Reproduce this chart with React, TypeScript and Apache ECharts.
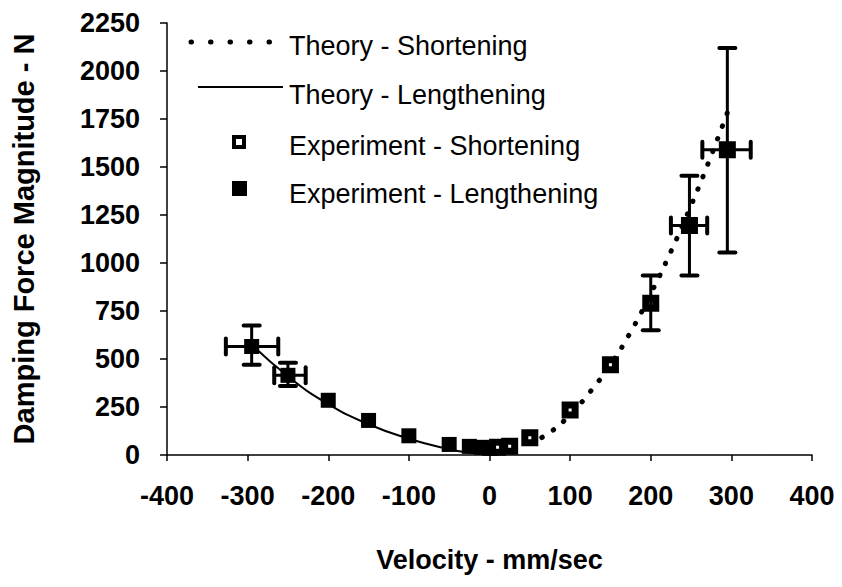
import React, { useEffect, useRef } from "react";
import * as echarts from "echarts";

// Experimental data (velocity mm/sec, force N)
const expLengthening: [number, number][] = [
  [-295, 565], [-250, 415], [-200, 285], [-150, 180], [-100, 100],
  [-50, 55], [-25, 45], [-10, 40], [0, 35],
];
const expShortening: [number, number][] = [
  [10, 40], [25, 45], [50, 90], [100, 235], [150, 470], [200, 790], [248, 1195], [295, 1590],
];
// Theory curves
const theoryLengthening: [number, number][] = [
  [-300, 595], [-250, 410], [-200, 265], [-150, 160], [-100, 85], [-50, 30], [-25, 12], [0, 3],
];
const theoryShortening: [number, number][] = [
  [50, 60], [75, 118], [100, 210], [125, 330], [150, 470], [175, 640], [200, 840],
  [225, 1060], [250, 1300], [275, 1560], [300, 1840],
];
// Error bars: vertical [x, low, high], horizontal [y, low, high]
const yErrors: [number, number, number][] = [
  [-295, 470, 675], [-250, 360, 480], [200, 650, 935], [248, 935, 1455], [295, 1055, 2120],
];
const xErrors: [number, number, number][] = [
  [565, -327, -262], [415, -267, -228], [1195, 225, 270], [1590, 264, 324],
];

const legendLabels = [
  "Theory - Shortening",
  "Theory - Lengthening",
  "Experiment - Shortening",
  "Experiment - Lengthening",
];

const FONT = '"Liberation Sans", Arial, sans-serif';

export default function App() {
  const ref = useRef<HTMLDivElement>(null);
  useEffect(() => {
    document.body.style.margin = "0";
    if (!ref.current) return;
    const chart = echarts.init(ref.current, null, { renderer: "svg" });
    const CAP = 8;
    const option: any = {
      animation: false,
      backgroundColor: "#fff",
      grid: { left: 167, right: 30, top: 23, bottom: 132 },
      xAxis: {
        type: "value",
        min: -400,
        max: 400,
        interval: 100,
        name: "Velocity - mm/sec",
        nameLocation: "middle",
        nameGap: 91,
        nameTextStyle: { fontFamily: FONT, fontWeight: "bold", fontSize: 27, color: "#000" },
        axisLine: { onZero: false, lineStyle: { color: "#000", width: 1.5 } },
        axisTick: { show: true, length: 6, lineStyle: { color: "#000", width: 1.5 } },
        axisLabel: { fontFamily: FONT, fontWeight: "bold", fontSize: 27, color: "#000", margin: 27, formatter: (v: number) => String(v) },
        splitLine: { show: false },
      },
      yAxis: {
        type: "value",
        min: 0,
        max: 2250,
        interval: 250,
        name: "Damping Force Magnitude - N",
        nameLocation: "middle",
        nameGap: 129,
        nameRotate: 90,
        nameTextStyle: { fontFamily: FONT, fontWeight: "bold", fontSize: 29, color: "#000" },
        axisLine: { show: true, onZero: false, lineStyle: { color: "#000", width: 1.5 } },
        axisTick: { show: true, length: 7, lineStyle: { color: "#000", width: 1.5 } },
        axisLabel: { fontFamily: FONT, fontWeight: "bold", fontSize: 27, color: "#000", margin: 27, formatter: (v: number) => String(v) },
        splitLine: { show: false },
      },
      graphic: [
        {
          type: "line",
          shape: { x1: 191, y1: 42, x2: 270, y2: 42 },
          style: { stroke: "#000", lineWidth: 5, lineDash: [0.5, 19], lineCap: "round" },
        },
        {
          type: "line",
          shape: { x1: 198, y1: 87, x2: 283, y2: 87 },
          style: { stroke: "#000", lineWidth: 2 },
        },
        {
          type: "rect",
          shape: { x: 234, y: 137, width: 10, height: 10 },
          style: { fill: "#fff", stroke: "#000", lineWidth: 4 },
        },
        {
          type: "rect",
          shape: { x: 232, y: 181, width: 15, height: 15 },
          style: { fill: "#000" },
        },
        ...legendLabels.map((t, i) => ({
          type: "text",
          x: 289,
          y: [46, 95, 146, 194][i],
          style: {
            text: t,
            fill: "#000",
            font: `27px ${FONT}`,
            verticalAlign: "middle",
            textVerticalAlign: "middle",
          },
        })),
      ],
      series: [
        {
          name: "Theory - Lengthening",
          type: "line",
          data: theoryLengthening,
          smooth: true,
          showSymbol: false,
          lineStyle: { color: "#000", width: 2 },
          z: 2,
        },
        {
          name: "Theory - Shortening",
          type: "line",
          data: theoryShortening,
          smooth: true,
          showSymbol: false,
          lineStyle: { color: "#000", width: 5, type: [0.5, 13], cap: "round" },
          z: 2,
        },
        {
          name: "Experiment - Lengthening",
          type: "scatter",
          data: expLengthening,
          symbol: "rect",
          symbolSize: 15,
          itemStyle: { color: "#000", opacity: 1 },
          z: 3,
        },
        {
          name: "Experiment - Shortening",
          type: "scatter",
          data: expShortening,
          symbol: "rect",
          symbolSize: 10,
          itemStyle: { color: "#fff", borderColor: "#000", borderWidth: 7, opacity: 1 },
          z: 3,
        },
        {
          type: "custom",
          data: yErrors,
          z: 4,
          renderItem: (params: any, api: any) => {
            const x = api.value(0);
            const lo = api.coord([x, api.value(1)]);
            const hi = api.coord([x, api.value(2)]);
            const st = { stroke: "#000", lineWidth: 3, lineCap: "round" };
            return {
              type: "group",
              children: [
                { type: "line", shape: { x1: lo[0], y1: lo[1], x2: hi[0], y2: hi[1] }, style: st },
                { type: "line", shape: { x1: lo[0] - CAP, y1: lo[1], x2: lo[0] + CAP, y2: lo[1] }, style: { ...st, lineWidth: 4 } },
                { type: "line", shape: { x1: hi[0] - CAP, y1: hi[1], x2: hi[0] + CAP, y2: hi[1] }, style: { ...st, lineWidth: 4 } },
              ],
            };
          },
        },
        {
          type: "custom",
          data: xErrors,
          z: 4,
          encode: { x: [1, 2], y: 0 },
          renderItem: (params: any, api: any) => {
            const y = api.value(0);
            const lo = api.coord([api.value(1), y]);
            const hi = api.coord([api.value(2), y]);
            const st = { stroke: "#000", lineWidth: 3, lineCap: "round" };
            return {
              type: "group",
              children: [
                { type: "line", shape: { x1: lo[0], y1: lo[1], x2: hi[0], y2: hi[1] }, style: st },
                { type: "line", shape: { x1: lo[0], y1: lo[1] - CAP, x2: lo[0], y2: lo[1] + CAP }, style: { ...st, lineWidth: 4 } },
                { type: "line", shape: { x1: hi[0], y1: hi[1] - CAP, x2: hi[0], y2: hi[1] + CAP }, style: { ...st, lineWidth: 4 } },
              ],
            };
          },
        },
      ],
    };
    chart.setOption(option);
    return () => chart.dispose();
  }, []);
  return <div ref={ref} style={{ width: 842, height: 587 }} />;
}
